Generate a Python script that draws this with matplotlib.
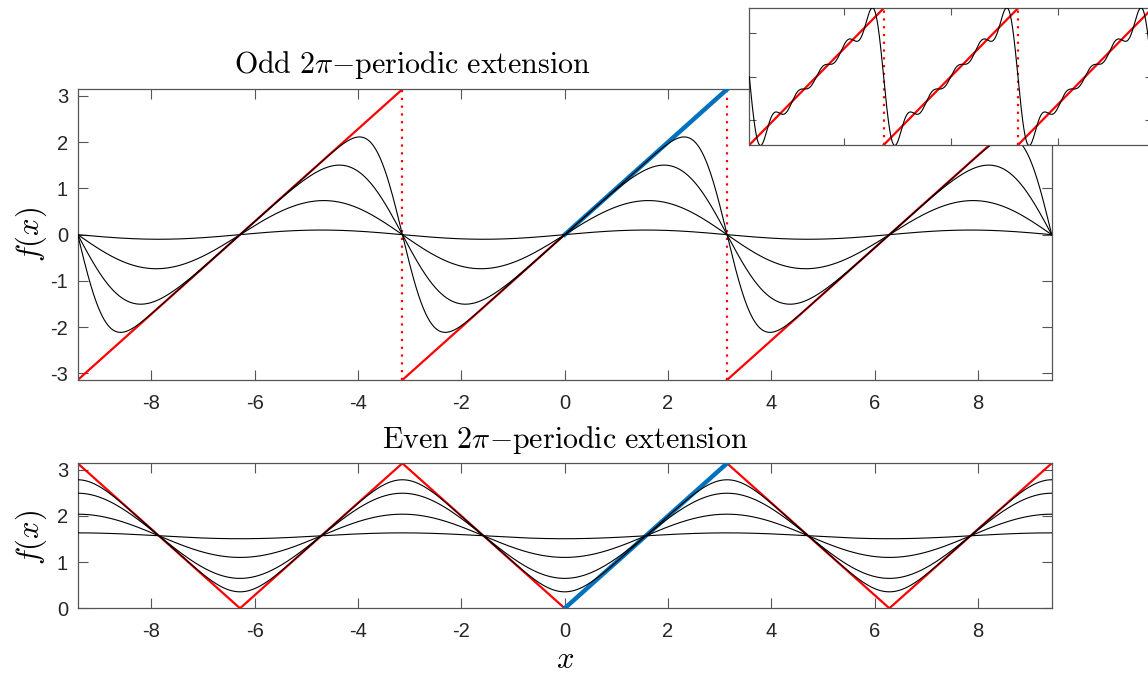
import numpy as np
import matplotlib
matplotlib.use("Agg")
import matplotlib.pyplot as plt

plt.rcParams['font.family'] = ['Liberation Sans', 'DejaVu Sans']
plt.rcParams['mathtext.fontset'] = 'cm'
plt.rcParams['axes.unicode_minus'] = False

# diffusion times of the smoothed series (black curves)
times = [0.1, 0.33, 1.0, 3.0]
n_terms = 200
# partial sum shown in the inset
inset_terms = 5
# periods shown: centres of the sawtooth teeth / triangle peaks
period_centres = [-2 * np.pi, 0.0, 2 * np.pi]
jumps = [-np.pi, np.pi]
even_x = [-3 * np.pi, -2 * np.pi, -np.pi, 0.0, np.pi, 2 * np.pi, 3 * np.pi]
even_y = [np.pi, 0.0, np.pi, 0.0, np.pi, 0.0, np.pi]
base_x = [0.0, np.pi]
base_y = [0.0, np.pi]

xticks = [-8, -6, -4, -2, 0, 2, 4, 6, 8]
odd_yticks = [-3, -2, -1, 0, 1, 2, 3]
even_yticks = [0, 1, 2, 3]

RED = (1, 0, 0)
BLUE = '#0072BD'
AX = '#555555'

x = np.linspace(-3 * np.pi, 3 * np.pi, 3001)


def odd_series(x, t, N):
    n = np.arange(1, N + 1)[:, None]
    c = 2 * (-1.0) ** (n + 1) / n * np.exp(-n ** 2 * t)
    return (c * np.sin(n * x)).sum(axis=0)


def even_series(x, t, N):
    n = np.arange(1, N + 1, 2)[:, None]
    c = np.exp(-n ** 2 * t) / n ** 2
    return np.pi / 2 - 4 / np.pi * (c * np.cos(n * x)).sum(axis=0)


def style(ax, yt):
    ax.set_xlim(-3 * np.pi, 3 * np.pi)
    ax.set_xticks(xticks)
    ax.set_yticks(yt)
    ax.tick_params(direction='in', top=True, right=True, length=7,
                   width=0.8, color=AX, labelsize=14.5, labelcolor='#262626')
    ax.tick_params(axis='x', pad=10)
    ax.tick_params(axis='y', pad=7)
    for s in ax.spines.values():
        s.set_color(AX)
        s.set_linewidth(0.9)


def draw_odd(ax):
    for c in period_centres:
        ax.plot([c - np.pi, c + np.pi], [-np.pi, np.pi], color=RED, lw=1.6, zorder=2)
    for j in jumps:
        ax.plot([j, j], [-np.pi, np.pi], color=RED, lw=1.6, ls=(0, (1, 2.5)), zorder=2)


fig = plt.figure(figsize=(11.48, 6.73), dpi=100)
W, H = 1148, 673

# odd extension
ax1 = fig.add_axes([77.7 / W, 1 - 380 / H, 974 / W, 290.7 / H])
draw_odd(ax1)
ax1.plot(base_x, base_y, color=BLUE, lw=3.2, zorder=3)
for t in times:
    ax1.plot(x, odd_series(x, t, n_terms), color='k', lw=0.8, zorder=4)
ax1.set_ylim(-np.pi, np.pi)
style(ax1, odd_yticks)

# even extension
ax2 = fig.add_axes([77.7 / W, 1 - 608.3 / H, 974 / W, 145 / H])
ax2.plot(even_x, even_y, color=RED, lw=1.6, zorder=2)
ax2.plot(base_x, base_y, color=BLUE, lw=3.2, zorder=3)
for t in times:
    ax2.plot(x, even_series(x, t, n_terms), color='k', lw=0.8, zorder=4)
ax2.set_ylim(0, np.pi)
style(ax2, even_yticks)

# inset: plain partial sum with Gibbs ringing
ax3 = fig.add_axes([749.3 / W, 1 - 145 / H, 403 / W, 136.7 / H])
draw_odd(ax3)
ax3.plot(x, odd_series(x, 0.0, inset_terms), color='k', lw=0.8, zorder=4)
ax3.set_xlim(-3 * np.pi, 3 * np.pi)
ax3.set_ylim(-np.pi, np.pi)
ax3.set_xticks([-5, 0, 5])
ax3.set_yticks([-2, 0, 2])
ax3.tick_params(direction='in', top=True, right=True, length=5, width=0.8,
                color=AX, labelbottom=False, labelleft=False)
for s in ax3.spines.values():
    s.set_color(AX)
    s.set_linewidth(0.9)

fig.text(412 / W, 1 - 65 / H, r'$\mathrm{Odd}\ 2\pi{-}\mathrm{periodic\ extension}$',
         ha='center', va='center', fontsize=21.6)
fig.text(565 / W, 1 - 440 / H, r'$\mathrm{Even}\ 2\pi{-}\mathrm{periodic\ extension}$',
         ha='center', va='center', fontsize=21.6)
fig.text(565 / W, 1 - 660 / H, r'$x$', ha='center', va='center', fontsize=22)
fig.text(31 / W, 1 - 234 / H, r'$f(x)$', ha='center', va='center', fontsize=22, rotation=90)
fig.text(31 / W, 1 - 537 / H, r'$f(x)$', ha='center', va='center', fontsize=22, rotation=90)

fig.savefig('out.png', dpi=100)
